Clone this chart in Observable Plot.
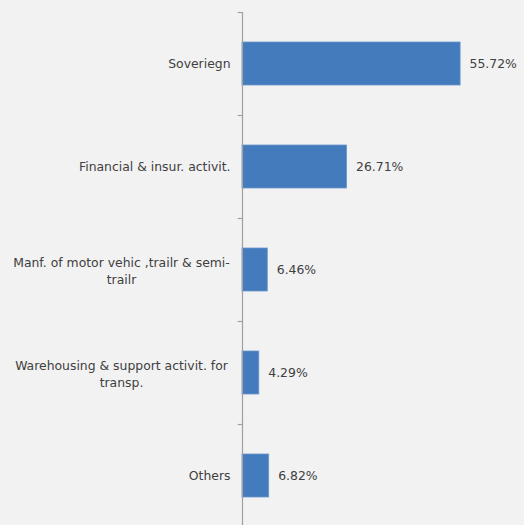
<!DOCTYPE html>
<html>
<head>
<meta charset="utf-8">
<script src="https://cdn.jsdelivr.net/npm/d3@7"></script>
<script src="https://cdn.jsdelivr.net/npm/@observablehq/plot@0.6"></script>
<style>
  html, body { margin: 0; padding: 0; background: #f2f2f2; overflow: hidden; }
  #chart svg { display: block; }
</style>
</head>
<body>
<div id="chart"></div>
<script>
const categories = ["Soveriegn", "Financial", "Manf", "Warehousing", "Others"];
const tickLabels = [
  "Soveriegn",
  "Financial & insur. activit.",
  "Manf. of motor vehic ,trailr & semi-\ntrailr",
  "Warehousing & support activit. for\ntransp.",
  "Others"
];
const values = [55.72, 26.71, 6.46, 4.29, 6.82];
const valueLabels = ["55.72%", "26.71%", "6.46%", "4.29%", "6.82%"];

const data = categories.map((c, i) => ({cat: c, label: tickLabels[i], value: values[i], vlabel: valueLabels[i]}));
const single = data.filter(d => !d.label.includes("\n"));
const multi = data.filter(d => d.label.includes("\n"));

const font = "'DejaVu Sans', sans-serif";
const fs = 12.4;
const textColor = "#404040";
const axisColor = "#a0a0a0";

const chart = Plot.plot({
  width: 524,
  height: 527,
  marginTop: 12,
  marginBottom: 0,
  marginLeft: 242,
  marginRight: 8,
  style: {background: "#f2f2f2", fontFamily: font, fontSize: fs + "px", color: textColor},
  x: {domain: [0, 70], axis: null},
  y: {domain: categories, paddingInner: 0.58, paddingOuter: 0.29, axis: null},
  marks: [
    Plot.barX(data, {x: "value", y: "cat", fill: "#437bbd", stroke: "#6b97cc", strokeWidth: 0.8}),
    Plot.text(data, {x: "value", y: "cat", text: "vlabel", textAnchor: "start", dx: 9, fill: textColor, fontSize: fs}),
    Plot.text(single, {y: "cat", text: "label", frameAnchor: "left", textAnchor: "end", dx: -12, fill: textColor, fontSize: fs}),
    Plot.text(multi, {y: "cat", text: "label", frameAnchor: "left", textAnchor: "middle", dx: -121, lineHeight: 1.35, fill: textColor, fontSize: fs}),
    // axis line
    Plot.ruleX([0], {stroke: axisColor, strokeWidth: 1.2}),
    // tick marks at category boundaries
    Plot.ruleY(categories, {y: d => d, stroke: axisColor, strokeWidth: 1.2, dy: -51.5, x1: -1.1, x2: 0}),
    Plot.ruleY([categories[categories.length - 1]], {stroke: axisColor, strokeWidth: 1.2, dy: 51.5, x1: -1.1, x2: 0})
  ]
});
document.getElementById("chart").appendChild(chart);
</script>
</body>
</html>
